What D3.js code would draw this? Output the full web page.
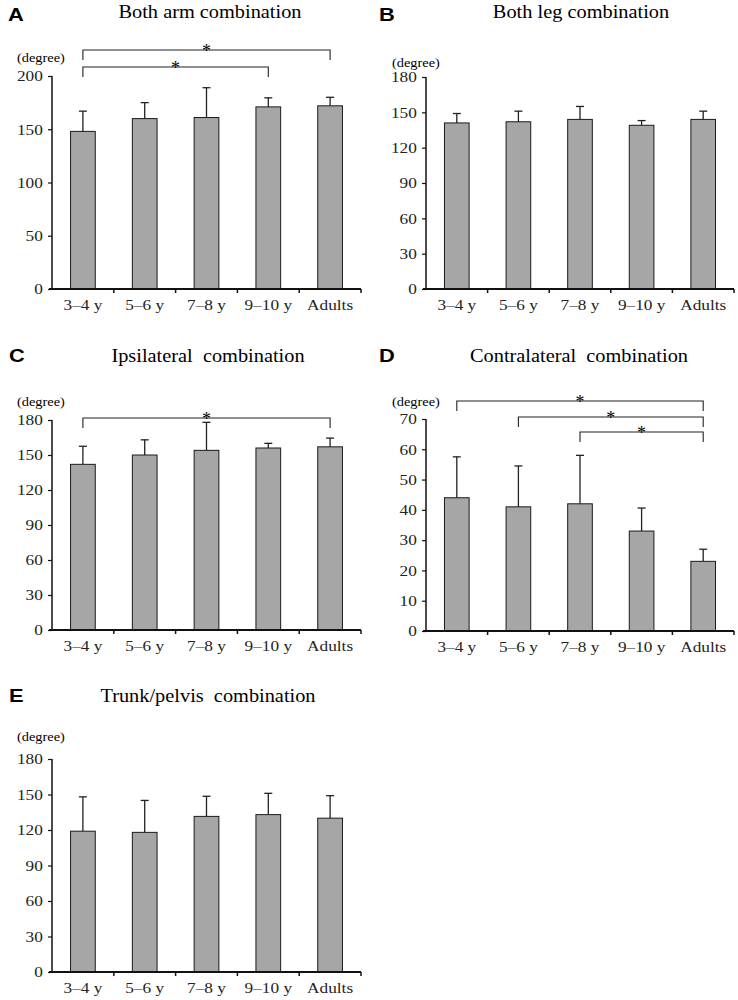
<!DOCTYPE html>
<html>
<head>
<meta charset="utf-8">
<script src="https://cdn.jsdelivr.net/npm/d3@7"></script>
<style>
  body { margin: 0; background: #fff; }
  svg { display: block; }
</style>
</head>
<body>
<div id="vis"></div>
<script>
// age groups on every x axis
const CATEGORIES = ["3\u20134 y", "5\u20136 y", "7\u20138 y", "9\u201310 y", "Adults"];

// means and SDs (degree)
const ARM_MEAN = [148, 160, 161, 171, 172];
const ARM_SD = [19, 15, 28, 8.5, 8];
const LEG_MEAN = [141, 142, 144, 139, 144];
const LEG_SD = [8, 9, 11, 4, 7];
const IPSI_MEAN = [142, 150, 154, 156, 157];
const IPSI_SD = [15.5, 13, 24, 4, 7.5];
const CONTRA_MEAN = [44, 41, 42, 33, 23];
const CONTRA_SD = [13.5, 13.5, 16, 7.6, 4];
const TRUNK_MEAN = [119, 118, 131.5, 133, 130];
const TRUNK_SD = [29, 27, 17, 18, 19];

// y tick labels
const TICKS_200 = [0, 50, 100, 150, 200];
const TICKS_180 = [0, 30, 60, 90, 120, 150, 180];
const TICKS_70 = [0, 10, 20, 30, 40, 50, 60, 70];

// significant pairs (index from, index to)
const ARM_SIG = [[0, 4], [0, 3]];
const LEG_SIG = [];
const IPSI_SIG = [[0, 4]];
const CONTRA_SIG = [[0, 4], [1, 4], [2, 4]];
const TRUNK_SIG = [];

const FRAME_WIDTH = 738;
const FRAME_HEIGHT = 1000;
const SERIF = "Liberation Serif, Times New Roman, serif";
const STRETCH = "scale(1.15,1)"; // the source type is a bit wide

const FRAME = d3.select("#vis")
  .append("svg")
    .attr("width", FRAME_WIDTH)
    .attr("height", FRAME_HEIGHT);

FRAME.append("rect")
  .attr("width", FRAME_WIDTH).attr("height", FRAME_HEIGHT)
  .attr("fill", "#fff");

// panel layout: axis origin, top of value axis, brackets in px
const PANELS = [
  {letter: "A", title: "Both arm combination", mean: ARM_MEAN, sd: ARM_SD, ticks: TICKS_200, sig: ARM_SIG,
   left: 52, right: 361, top: 76, bottom: 289, titleX: 210, titleY: 18, letterX: 8, letterY: 21,
   degreeX: 17, degreeY: 62, bracketY: [50, 67], drop: 10},
  {letter: "B", title: "Both leg combination", mean: LEG_MEAN, sd: LEG_SD, ticks: TICKS_180, sig: LEG_SIG,
   left: 426, right: 734, top: 77, bottom: 289, titleX: 581, titleY: 18, letterX: 379, letterY: 21,
   degreeX: 392, degreeY: 67, bracketY: [], drop: 10},
  {letter: "C", title: "Ipsilateral  combination", mean: IPSI_MEAN, sd: IPSI_SD, ticks: TICKS_180, sig: IPSI_SIG,
   left: 52, right: 361, top: 420, bottom: 630, titleX: 208, titleY: 362, letterX: 9, letterY: 362,
   degreeX: 17, degreeY: 406, bracketY: [418], drop: 10},
  {letter: "D", title: "Contralateral  combination", mean: CONTRA_MEAN, sd: CONTRA_SD, ticks: TICKS_70, sig: CONTRA_SIG,
   left: 426, right: 734, top: 419, bottom: 631, titleX: 579, titleY: 362, letterX: 379, letterY: 362,
   degreeX: 392, degreeY: 406, bracketY: [401, 417, 432], drop: 10},
  {letter: "E", title: "Trunk/pelvis  combination", mean: TRUNK_MEAN, sd: TRUNK_SD, ticks: TICKS_180, sig: TRUNK_SIG,
   left: 52, right: 361, top: 759, bottom: 972, titleX: 208, titleY: 702, letterX: 9, letterY: 702,
   degreeX: 17, degreeY: 741, bracketY: [], drop: 10}
];

PANELS.forEach(drawPanel);

// text placed at (x,y) then widened a little
function wideText(x, y, sx) {
  return FRAME.append("text")
    .attr("transform", "translate(" + x + "," + y + ") scale(" + sx + ",1)");
}

function drawPanel(p) {
  const X_SCALE = d3.scaleBand()
    .domain(CATEGORIES)
    .range([p.left, p.right])
    .paddingInner(0.6)
    .paddingOuter(0.3);

  const Y_SCALE = d3.scaleLinear()
    .domain([0, d3.max(p.ticks)])
    .range([p.bottom, p.top]);

  const rows = CATEGORIES.map((c, i) => ({cat: c, m: p.mean[i], sd: p.sd[i]}));

  // panel letter + title
  wideText(p.letterX, p.letterY, 1.15)
    .attr("font-family", "Liberation Sans, Arial, sans-serif")
    .attr("font-weight", "bold").attr("font-size", 19)
    .text(p.letter);

  wideText(p.titleX, p.titleY, 1.1)
    .attr("text-anchor", "middle")
    .attr("font-family", SERIF)
    .attr("font-size", 18.5)
    .style("white-space", "pre")
    .text(p.title);

  wideText(p.degreeX, p.degreeY, 1.15)
    .attr("font-family", SERIF)
    .attr("font-size", 12.5)
    .text("(degree)");

  // error bars (upper only) drawn first so bars cover the stem base
  const err = FRAME.append("g").attr("stroke", "#222").attr("stroke-width", 1.3);
  err.selectAll("line.stem")
    .data(rows).enter().append("line")
      .attr("x1", (d) => X_SCALE(d.cat) + X_SCALE.bandwidth() / 2)
      .attr("x2", (d) => X_SCALE(d.cat) + X_SCALE.bandwidth() / 2)
      .attr("y1", (d) => Y_SCALE(d.m))
      .attr("y2", (d) => Y_SCALE(d.m + d.sd));
  err.selectAll("line.cap")
    .data(rows).enter().append("line")
      .attr("x1", (d) => X_SCALE(d.cat) + X_SCALE.bandwidth() / 2 - 4)
      .attr("x2", (d) => X_SCALE(d.cat) + X_SCALE.bandwidth() / 2 + 4)
      .attr("y1", (d) => Y_SCALE(d.m + d.sd))
      .attr("y2", (d) => Y_SCALE(d.m + d.sd));

  // bars
  FRAME.append("g").selectAll("rect")
    .data(rows).enter().append("rect")
      .attr("x", (d) => X_SCALE(d.cat))
      .attr("y", (d) => Y_SCALE(d.m))
      .attr("width", X_SCALE.bandwidth())
      .attr("height", (d) => p.bottom - Y_SCALE(d.m))
      .attr("fill", "#a6a6a6")
      .attr("stroke", "#1a1a1a")
      .attr("stroke-width", 1);

  // y axis
  const yAxis = FRAME.append("g")
    .attr("transform", "translate(" + p.left + ",0)")
    .call(d3.axisLeft(Y_SCALE).tickValues(p.ticks).tickSize(4).tickPadding(4).tickSizeOuter(0));
  yAxis.select(".domain").attr("stroke", "#111").attr("stroke-width", 1.5)
    .attr("d", "M0," + p.top + "V" + p.bottom);
  yAxis.selectAll(".tick line").attr("stroke", "#111").attr("stroke-width", 1.2);
  yAxis.selectAll("text")
    .attr("font-family", SERIF)
    .attr("font-size", 15).attr("fill", "#222")
    .attr("transform", STRETCH);

  // x axis: ticks sit between categories
  const xAxis = FRAME.append("g")
    .attr("transform", "translate(0," + p.bottom + ")")
    .call(d3.axisBottom(X_SCALE).tickSize(0).tickPadding(10));
  xAxis.select(".domain").attr("stroke", "#111").attr("stroke-width", 2)
    .attr("d", "M" + (p.left - 3) + ",0H" + p.right);
  xAxis.selectAll("text")
    .attr("font-family", SERIF)
    .attr("font-size", 15).attr("fill", "#222")
    .attr("transform", STRETCH);
  const step = X_SCALE.step();
  const bounds = CATEGORIES.map((c) => X_SCALE(c) - X_SCALE.paddingInner() * step / 2);
  bounds.push(p.right);
  xAxis.selectAll("line.sep")
    .data(bounds.slice(1)).enter().append("line")
      .attr("x1", (d) => d).attr("x2", (d) => d)
      .attr("y1", 0).attr("y2", 4)
      .attr("stroke", "#111").attr("stroke-width", 1.5);

  // significance brackets
  const br = FRAME.append("g");
  p.sig.forEach((pair, k) => {
    const y = p.bracketY[k];
    const x0 = X_SCALE(CATEGORIES[pair[0]]) + X_SCALE.bandwidth() / 2;
    const x1 = X_SCALE(CATEGORIES[pair[1]]) + X_SCALE.bandwidth() / 2;
    br.append("path")
      .attr("d", "M" + x0 + "," + (y + p.drop) + "V" + y + "H" + x1 + "V" + (y + p.drop))
      .attr("fill", "none").attr("stroke", "#222").attr("stroke-width", 1.1);
    br.append("text")
      .attr("x", (x0 + x1) / 2).attr("y", y + 7)
      .attr("text-anchor", "middle")
      .attr("font-family", SERIF)
      .attr("font-size", 18)
      .text("*");
  });
}
</script>
</body>
</html>
